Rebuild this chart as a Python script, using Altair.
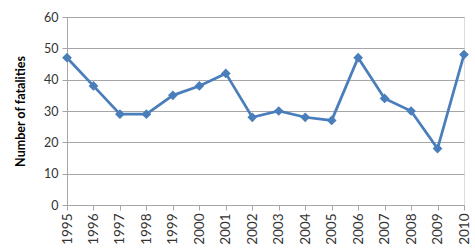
import altair as alt
import pandas as pd

years = ["1995", "1996", "1997", "1998", "1999", "2000", "2001", "2002",
         "2003", "2004", "2005", "2006", "2007", "2008", "2009", "2010"]
fatalities = [47, 38, 29, 29, 35, 38, 42, 28, 30, 28, 27, 47, 34, 30, 18, 48]

df = pd.DataFrame({"year": years, "fatalities": fatalities})

FONT = "Lato"
BLUE = "#4a7ebb"

chart = alt.Chart(df).mark_line(
    color=BLUE, strokeWidth=2.75,
    point=alt.OverlayMarkDef(shape="diamond", size=95, color=BLUE, filled=True, opacity=1)
).encode(
    x=alt.X("year:O", sort=years, scale=alt.Scale(type="point", padding=0),
            axis=alt.Axis(title=None, labelAngle=270, labelAlign="right", labelBaseline="middle",
                          labelFont=FONT, labelFontSize=13.5, labelColor="#333333",
                          domainColor="#a6a6a6", tickColor="#a6a6a6", tickSize=5,
                          labelPadding=3, grid=False)),
    y=alt.Y("fatalities:Q", scale=alt.Scale(domain=[0, 60], nice=False),
            axis=alt.Axis(title="Number of fatalities", values=[0, 10, 20, 30, 40, 50, 60],
                          titleFont=FONT, titleFontSize=12.5, titleFontWeight="bold",
                          titleColor="#000000", titlePadding=16,
                          labelFont=FONT, labelFontSize=12.5, labelColor="#333333",
                          domainColor="#a6a6a6", tickColor="#a6a6a6", tickSize=5,
                          gridColor="#a6a6a6", gridWidth=1, labelPadding=4)),
).properties(
    width=397, height=188,
    autosize=alt.AutoSizeParams(type="none"),
    padding={"left": 67, "top": 17, "right": 11, "bottom": 43},
).configure_view(stroke=None).configure(background="white")

chart.save("out.html", embed_options={"renderer": "svg", "actions": False})
